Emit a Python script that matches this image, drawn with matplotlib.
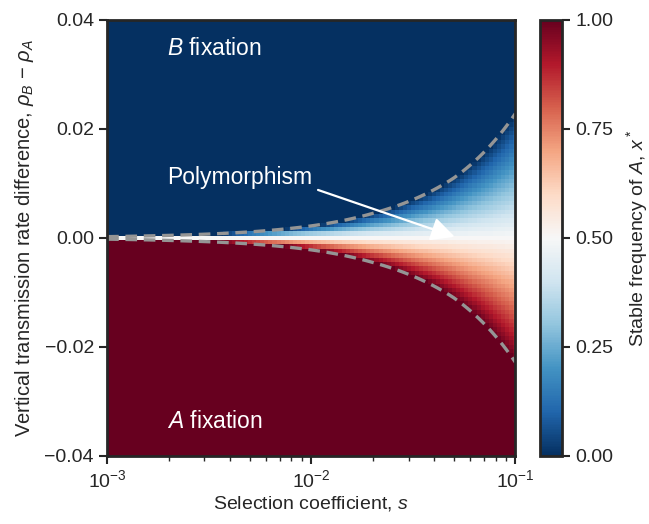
import numpy as np
import matplotlib
matplotlib.use('Agg')
import matplotlib.pyplot as plt
import seaborn as sns

# upper edge of the polymorphism region
s_read = [0.001, 0.002, 0.005, 0.01, 0.02, 0.05, 0.1]
edge_read = [0.00023, 0.00046, 0.0011, 0.0022, 0.0045, 0.011, 0.0228]

# grid of the heat map
s_grid = np.logspace(-3, -1, 101)
rho_grid = np.linspace(-0.04, 0.04, 101)

y_ticks = [-0.04, -0.02, 0.0, 0.02, 0.04]
y_ticklabels = ['\u22120.04', '\u22120.02', '0.00', '0.02', '0.04']
cbar_ticks = [0.0, 0.25, 0.5, 0.75, 1.0]

sns.set_style('ticks')
plt.rcParams['font.family'] = ['Liberation Sans', 'DejaVu Sans']
plt.rcParams['mathtext.fontset'] = 'custom'
plt.rcParams['mathtext.rm'] = 'Liberation Sans'
plt.rcParams['mathtext.it'] = 'Liberation Sans:italic'
plt.rcParams['axes.edgecolor'] = '#262626'
plt.rcParams['axes.linewidth'] = 2.0
plt.rcParams['xtick.major.width'] = 1.5
plt.rcParams['ytick.major.width'] = 1.5
plt.rcParams['xtick.major.size'] = 6
plt.rcParams['ytick.major.size'] = 6
plt.rcParams['xtick.minor.size'] = 3.5
plt.rcParams['xtick.minor.width'] = 1.0

# interpolate the read edge in log-log space onto the grid
edge = np.exp(np.interp(np.log(s_grid), np.log(s_read), np.log(edge_read)))
xstar = np.clip(0.5 - rho_grid[:, None] / (2 * edge[None, :]), 0, 1)

fig = plt.figure(figsize=(6.49, 5.24), dpi=100)
ax = fig.add_axes([0.165, 0.130, 0.629, 0.832])
cax = fig.add_axes([0.832, 0.130, 0.034, 0.832])

mesh = ax.pcolormesh(s_grid, rho_grid, xstar, cmap='RdBu_r', vmin=0, vmax=1,
                     shading='nearest', rasterized=True)
ax.plot(s_grid, edge, '--', color='#959595', lw=2.4, dashes=(3.5, 2))
ax.plot(s_grid, -edge, '--', color='#959595', lw=2.4, dashes=(3.5, 2))

ax.set_xscale('log')
ax.set_xlim(1e-3, 1e-1)
ax.set_ylim(-0.04, 0.04)
ax.set_yticks(y_ticks)
ax.set_yticklabels(y_ticklabels)
ax.tick_params(labelsize=14, colors='#262626')
ax.set_xlabel('Selection coefficient, $s$', fontsize=14, color='#262626',
              labelpad=2)
ax.set_ylabel('Vertical transmission rate difference, $\\rho_B$ \u2212 $\\rho_A$',
              fontsize=14.5, color='#262626', labelpad=6)

ax.text(0.00197, 0.0347, '$B$ fixation', color='white', fontsize=16.5,
        va='center')
ax.text(0.00197, -0.0336, '$A$ fixation', color='white', fontsize=16.5,
        va='center')
ax.text(0.00197, 0.011, 'Polymorphism', color='white', fontsize=16.5,
        va='center')
ax.annotate('', xy=(0.0505, 0.0002), xytext=(0.0108, 0.0088),
            xycoords='data', textcoords='data',
            arrowprops=dict(arrowstyle='-|>', color='white', lw=1.6,
                            mutation_scale=36, shrinkA=0, shrinkB=0))

cb = fig.colorbar(mesh, cax=cax, ticks=cbar_ticks)
cb.ax.set_yticklabels(['%.2f' % t for t in cbar_ticks])
cb.ax.tick_params(labelsize=14, colors='#262626')
cb.outline.set_edgecolor('#262626')
cb.outline.set_linewidth(2.0)
cb.set_label('Stable frequency of $A$, $x^*$', fontsize=14, color='#262626',
             labelpad=8)

fig.savefig('out.png', dpi=100)
